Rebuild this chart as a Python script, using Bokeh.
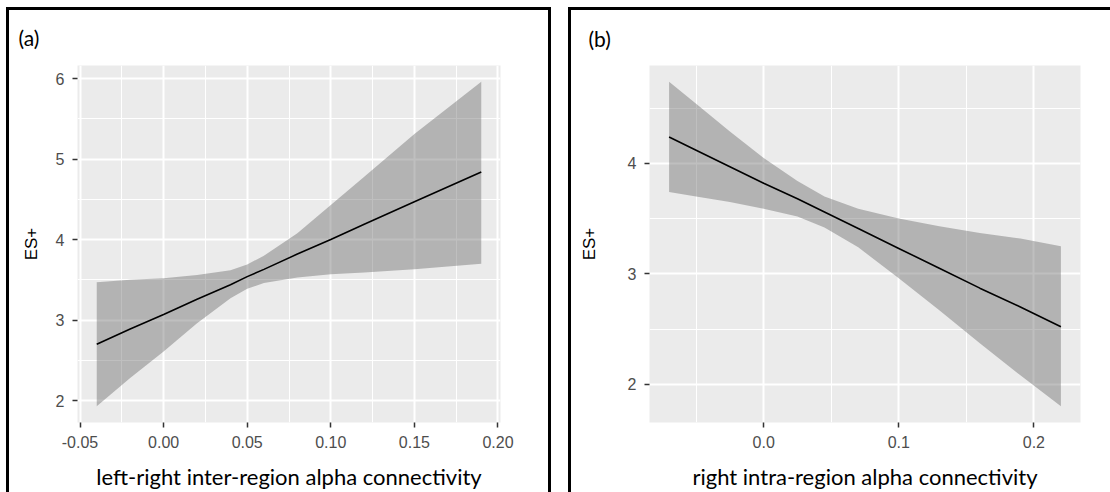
from bokeh.plotting import figure
from bokeh.layouts import row
from bokeh.models import FixedTicker, CustomJSTickFormatter, Range1d
from bokeh.embed import file_html
from bokeh.resources import INLINE

# ---------------- data: panel (a) ----------------
a_x = [-0.04, -0.02, 0.00, 0.02, 0.04, 0.05, 0.06, 0.08, 0.10, 0.12, 0.15, 0.19]
a_fit = [2.70, 2.89, 3.07, 3.26, 3.44, 3.54, 3.63, 3.82, 4.00, 4.19, 4.47, 4.84]
a_upper = [3.47, 3.50, 3.52, 3.56, 3.62, 3.69, 3.80, 4.08, 4.43, 4.78, 5.31, 5.96]
a_lower = [1.93, 2.28, 2.61, 2.96, 3.27, 3.39, 3.46, 3.53, 3.57, 3.59, 3.63, 3.70]
a_xticks = [-0.05, 0.00, 0.05, 0.10, 0.15, 0.20]
a_xlabels = ["-0.05", "0.00", "0.05", "0.10", "0.15", "0.20"]
a_xminor = [-0.025, 0.025, 0.075, 0.125, 0.175]
a_yticks = [2, 3, 4, 5, 6]
a_ylabels = ["2", "3", "4", "5", "6"]
a_yminor = [2.5, 3.5, 4.5, 5.5]
a_xtitle = "left-right inter-region alpha connectivity"
a_tag = "(a)"

# ---------------- data: panel (b) ----------------
b_x = [-0.07, -0.05, -0.025, 0.0, 0.025, 0.045, 0.07, 0.10, 0.13, 0.16, 0.19, 0.22]
b_fit = [4.24, 4.12, 3.97, 3.82, 3.68, 3.56, 3.41, 3.23, 3.05, 2.87, 2.70, 2.52]
b_upper = [4.74, 4.54, 4.29, 4.05, 3.84, 3.70, 3.59, 3.50, 3.43, 3.37, 3.32, 3.25]
b_lower = [3.74, 3.70, 3.65, 3.59, 3.52, 3.42, 3.24, 2.96, 2.67, 2.37, 2.08, 1.80]
b_xticks = [0.0, 0.1, 0.2]
b_xlabels = ["0.0", "0.1", "0.2"]
b_xminor = [-0.05, 0.05, 0.15]
b_yticks = [2, 3, 4]
b_ylabels = ["2", "3", "4"]
b_yminor = [2.5, 3.5, 4.5]
b_xtitle = "right intra-region alpha connectivity"
b_tag = "(b)"

y_title = "ES+"

FMT_CODE = """
const i = tvals.findIndex(t => Math.abs(t - tick) < 1e-9);
return i >= 0 ? tlabels[i] : "";
"""


def expand(lo, hi, f=0.05):
    d = (hi - lo) * f
    return lo - d, hi + d


def make_panel(x, fit, upper, lower, xticks, xlabels, xminor, yticks, ylabels,
               yminor, xtitle, tag, width, height, mb_left, mb_right, mb_top,
               mb_bottom, ylab_standoff, tag_offset, tag_standoff, styles, margin):
    x0, x1 = expand(min(x), max(x))
    y0, y1 = expand(min(lower), max(upper))
    p = figure(width=width, height=height, output_backend="svg",
               toolbar_location=None, x_range=Range1d(x0, x1),
               y_range=Range1d(y0, y1),
               min_border_left=mb_left, min_border_right=mb_right,
               min_border_top=mb_top, min_border_bottom=mb_bottom,
               background_fill_color="#EBEBEB", border_fill_color="white",
               outline_line_color=None)
    p.styles = styles
    p.margin = margin

    xa = p.below[0]
    ya = p.left[0]

    # panel tag as a left-aligned title
    p.title.text = tag
    p.title.align = "left"
    p.title.vertical_align = "top"
    p.title.offset = tag_offset
    p.title.text_font = "Lato"
    p.title.text_font_size = "21px"
    p.title.text_font_style = "normal"
    p.title.text_color = "black"
    p.title.standoff = tag_standoff

    xt = FixedTicker(ticks=xticks, minor_ticks=xminor)
    yt = FixedTicker(ticks=yticks, minor_ticks=yminor)
    xa.ticker = xt
    ya.ticker = yt
    p.xgrid.ticker = xt
    p.ygrid.ticker = yt
    xa.formatter = CustomJSTickFormatter(args=dict(tvals=xticks, tlabels=xlabels), code=FMT_CODE)
    ya.formatter = CustomJSTickFormatter(args=dict(tvals=yticks, tlabels=ylabels), code=FMT_CODE)

    for g in (p.xgrid, p.ygrid):
        g.grid_line_color = "white"
        g.grid_line_width = 2.0
        g.minor_grid_line_color = "white"
        g.minor_grid_line_width = 1.0

    for ax in (xa, ya):
        ax.axis_line_color = None
        ax.major_tick_line_color = "#333333"
        ax.major_tick_line_width = 1.5
        ax.major_tick_in = 0
        ax.major_tick_out = 5
        ax.minor_tick_in = 0
        ax.minor_tick_out = 0
        ax.major_label_text_color = "#4D4D4D"
        ax.major_label_text_font = "Liberation Sans"
        ax.major_label_text_font_size = "16px"
        ax.major_label_standoff = 8

    xa.axis_label = xtitle
    xa.axis_label_text_font = "Lato"
    xa.axis_label_text_font_size = "22px"
    xa.axis_label_text_font_style = "normal"
    xa.axis_label_text_color = "black"
    xa.axis_label_standoff = 12

    ya.axis_label = y_title
    ya.axis_label_text_font = "Liberation Sans"
    ya.axis_label_text_font_size = "17px"
    ya.axis_label_text_font_style = "normal"
    ya.axis_label_text_color = "black"
    ya.axis_label_standoff = ylab_standoff

    p.varea(x=x, y1=lower, y2=upper, fill_color="#5F5F5F", fill_alpha=0.4)
    p.line(x=x, y=fit, line_color="black", line_width=1.6)
    return p


pa = make_panel(a_x, a_fit, a_upper, a_lower, a_xticks, a_xlabels, a_xminor,
                a_yticks, a_ylabels, a_yminor, a_xtitle, a_tag,
                width=545, height=485, mb_left=68, mb_right=54, mb_top=55,
                mb_bottom=73, ylab_standoff=12, tag_offset=-59, tag_standoff=28,
                styles={"border-top": "3px solid black",
                        "border-left": "3px solid black",
                        "border-right": "3px solid black"},
                margin=(7, 0, 0, 6))

pb = make_panel(b_x, b_fit, b_upper, b_lower, b_xticks, b_xlabels, b_xminor,
                b_yticks, b_ylabels, b_yminor, b_xtitle, b_tag,
                width=542, height=485, mb_left=78, mb_right=33, mb_top=53,
                mb_bottom=70, ylab_standoff=26, tag_offset=-61, tag_standoff=26,
                styles={"border-top": "3px solid black",
                        "border-left": "3px solid black"},
                margin=(7, 0, 0, 17))

layout = row(pa, pb, spacing=0)
open("out.html", "w").write(file_html(layout, INLINE))
